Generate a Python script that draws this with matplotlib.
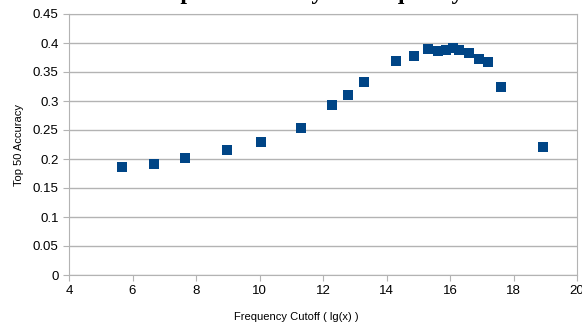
import matplotlib
matplotlib.use('Agg')
import matplotlib.pyplot as plt

# values
cutoff = [5.67, 6.67, 7.66, 8.99, 10.05, 11.31, 12.29, 12.78, 13.29, 14.29,
          14.88, 15.30, 15.61, 15.87, 16.10, 16.29, 16.61, 16.92, 17.19, 17.61, 18.93]
accuracy = [0.186, 0.192, 0.202, 0.215, 0.229, 0.254, 0.293, 0.311, 0.332, 0.369,
            0.378, 0.390, 0.386, 0.388, 0.392, 0.388, 0.383, 0.373, 0.367, 0.325, 0.221]
xticks = [4, 6, 8, 10, 12, 14, 16, 18, 20]
yticks = [0, 0.05, 0.1, 0.15, 0.2, 0.25, 0.3, 0.35, 0.4, 0.45]
ytick_labels = ['0', '0.05', '0.1', '0.15', '0.2', '0.25', '0.3', '0.35', '0.4', '0.45']

plt.rcParams['font.family'] = ['Liberation Sans', 'DejaVu Sans']

fig = plt.figure(figsize=(5.82, 3.24), dpi=100)
ax = fig.add_axes([69/582, 1 - 275/324, 508/582, 261/324])

ax.scatter(cutoff, accuracy, marker='s', s=62, color='#004586', zorder=3, linewidths=0)

ax.set_xlim(4, 20)
ax.set_ylim(0, 0.45)
ax.set_xticks(xticks)
ax.set_xticklabels([str(t) for t in xticks])
ax.set_yticks(yticks)
ax.set_yticklabels(ytick_labels)
ax.yaxis.grid(True, color='#b3b3b3', linewidth=1)
ax.set_axisbelow(True)

for side in ['left', 'bottom', 'right', 'top']:
    ax.spines[side].set_color('#b3b3b3')
ax.tick_params(axis='both', colors='#b3b3b3', labelcolor='black', labelsize=9.5,
               length=4, direction='out')

ax.set_xlabel('Frequency Cutoff ( lg(x) )', fontsize=8)
ax.xaxis.set_label_coords(0.447, -0.143)
ax.set_ylabel('Top 50 Accuracy', fontsize=8, labelpad=6)

# title is mostly clipped by the top edge in the reference
fig.text(0.6, 1 + 1/324, 'Top 50 Accuracy vs Frequency Cutoffs', ha='center', va='baseline',
         fontsize=17, fontweight='bold', family='Liberation Serif')

fig.savefig('out.png', dpi=100)
